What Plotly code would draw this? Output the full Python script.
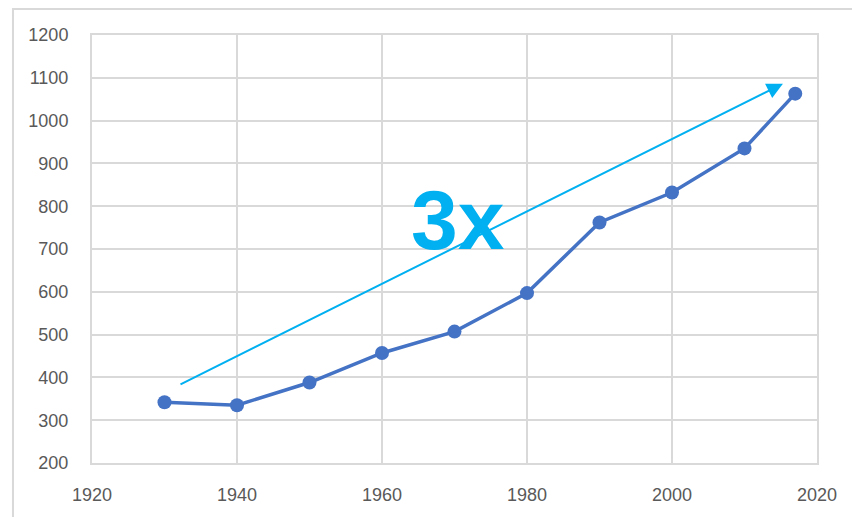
import plotly.graph_objects as go

years = [1930, 1940, 1950, 1960, 1970, 1980, 1990, 2000, 2010, 2017]
values = [342, 335, 388, 457, 507, 597, 762, 832, 935, 1063]

x_ticks = [1920, 1940, 1960, 1980, 2000, 2020]
y_ticks = [200, 300, 400, 500, 600, 700, 800, 900, 1000, 1100, 1200]

arrow_start = [1932.0, 382]
arrow_end = [2015.3, 1086]
label_text = "3x"
label_pos = [1970.5, 767]

LINE = "#4472C4"
ACCENT = "#00B0F0"
GRID = "#D9D9D9"
TXT = "#595959"

fig = go.Figure()
fig.add_trace(go.Scatter(
    x=years, y=values, mode="lines+markers",
    line=dict(color=LINE, width=3.5),
    marker=dict(color=LINE, size=14),
    showlegend=False, hoverinfo="skip",
))

fig.add_annotation(
    x=arrow_end[0], y=arrow_end[1], ax=arrow_start[0], ay=arrow_start[1],
    xref="x", yref="y", axref="x", ayref="y",
    text="", showarrow=True, arrowhead=2, arrowsize=1.6, arrowwidth=2,
    arrowcolor=ACCENT, standoff=0, startstandoff=0,
)
fig.add_annotation(
    x=label_pos[0], y=label_pos[1], xref="x", yref="y",
    text="<b>" + label_text + "</b>", showarrow=False,
    font=dict(family="Liberation Sans", size=84, color=ACCENT),
)

# chart area border
fig.add_shape(type="rect", xref="paper", yref="paper",
              x0=-0.109, x1=1.3, y0=-0.3, y1=1.0605,
              line=dict(color=GRID, width=2), fillcolor="rgba(0,0,0,0)", layer="below")

fig.update_layout(
    width=852, height=517,
    margin=dict(l=92, r=35, t=35, b=52),
    paper_bgcolor="white", plot_bgcolor="white",
    font=dict(family="Liberation Sans", size=18, color=TXT),
    xaxis=dict(range=[1920, 2020], tickvals=x_ticks, showgrid=True,
               gridcolor=GRID, gridwidth=2, showline=True, mirror=True,
               linecolor=GRID, linewidth=2, zeroline=False,
               ticks="", ticklabelstandoff=14, fixedrange=True),
    yaxis=dict(range=[200, 1200], tickvals=y_ticks, showgrid=True,
               gridcolor=GRID, gridwidth=2, showline=True, mirror=True,
               linecolor=GRID, linewidth=2, zeroline=False,
               ticks="", ticklabelstandoff=18, fixedrange=True),
)

fig.write_html("out.html", config={"displayModeBar": False},
               post_script="document.body.style.margin='0';document.body.style.overflow='hidden';")
